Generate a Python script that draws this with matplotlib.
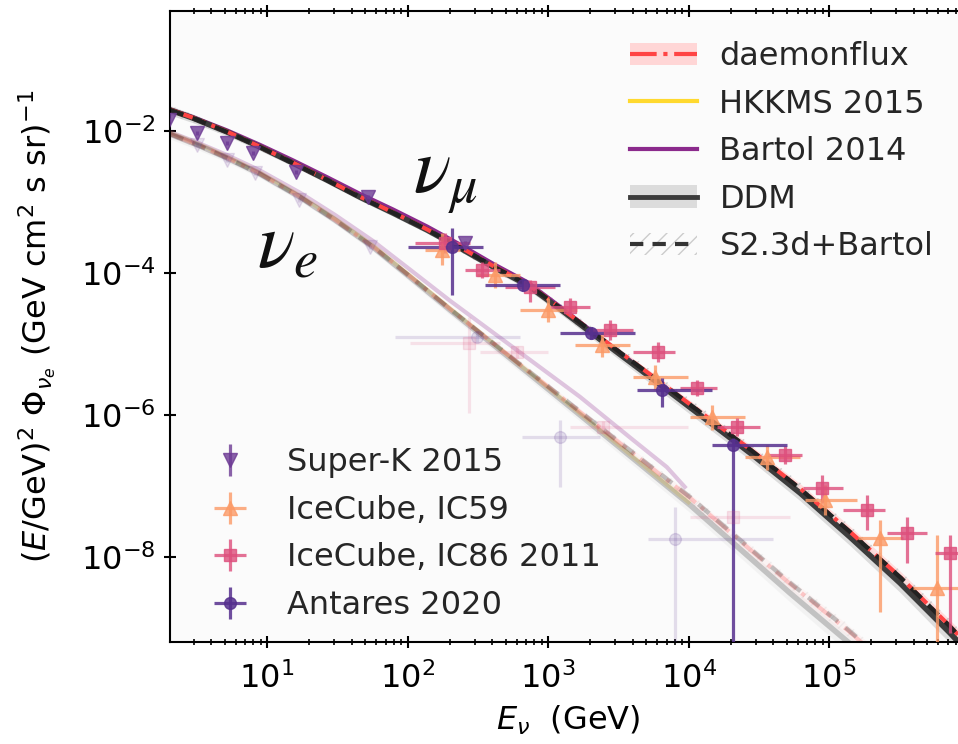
import matplotlib
matplotlib.use("Agg")
import matplotlib.pyplot as plt
import numpy as np
from matplotlib.lines import Line2D
from matplotlib.patches import Patch
from matplotlib.ticker import LogLocator, NullLocator

# ---- model curves, nu_mu (E^2 flux vs E in GeV) ----
E_mu = [2.04, 2.97, 5.19, 8.92, 15.3, 26.7, 45.9, 78.9, 138, 236, 406, 710, 1217, 2344,
        5320, 12070, 27400, 62200, 141000, 320000, 726000, 950000]
ddm_mu = [1.98e-2, 1.52e-2, 9.7e-3, 5.95e-3, 3.54e-3, 2.04e-3, 1.17e-3, 7.0e-4, 4.03e-4, 2.25e-4,
          1.22e-4, 6.78e-5, 3.11e-5, 1.16e-5, 3.43e-6, 1.0e-6, 2.92e-7, 7.97e-8, 1.91e-8, 4.3e-9,
          8.5e-10, 4.8e-10]
daemon_mu = [2.0e-2, 1.54e-2, 9.8e-3, 6.0e-3, 3.58e-3, 2.06e-3, 1.19e-3, 7.14e-4, 4.11e-4, 2.32e-4,
             1.26e-4, 7.05e-5, 3.27e-5, 1.24e-5, 3.74e-6, 1.11e-6, 3.3e-7, 9.25e-8, 2.27e-8, 5.25e-9,
             1.06e-9, 6.05e-10]
s23d_mu = [1.98e-2, 1.52e-2, 9.7e-3, 5.95e-3, 3.54e-3, 2.04e-3, 1.17e-3, 7.07e-4, 4.07e-4, 2.3e-4,
           1.24e-4, 6.98e-5, 3.23e-5, 1.23e-5, 3.7e-6, 1.1e-6, 3.27e-7, 9.17e-8, 2.25e-8, 5.2e-9,
           1.05e-9, 5.95e-10]
ddm_mu_err = [0.15, 0.14, 0.12, 0.11, 0.10, 0.10, 0.10, 0.10, 0.10, 0.10, 0.11, 0.12, 0.14, 0.16,
              0.18, 0.20, 0.20, 0.22, 0.24, 0.26, 0.28, 0.28]
daemon_mu_err = [0.08, 0.08, 0.07, 0.07, 0.06, 0.06, 0.06, 0.06, 0.07, 0.07, 0.08, 0.08, 0.09, 0.10,
                 0.12, 0.14, 0.15, 0.17, 0.19, 0.21, 0.22, 0.22]
s23d_mu_err = [0.15, 0.14, 0.12, 0.11, 0.10, 0.10, 0.10, 0.11, 0.12, 0.13, 0.14, 0.15, 0.16, 0.17,
               0.18, 0.20, 0.20, 0.22, 0.23, 0.24, 0.25, 0.25]
E_mu_tab = [2.04, 2.97, 5.19, 8.92, 15.3, 26.7, 45.9, 78.9, 138, 236, 406, 710, 1217, 2344, 5320, 10000]
hkkms_mu = [1.99e-2, 1.53e-2, 9.8e-3, 6.0e-3, 3.57e-3, 2.06e-3, 1.18e-3, 7.07e-4, 4.07e-4, 2.27e-4,
            1.23e-4, 6.85e-5, 3.14e-5, 1.17e-5, 3.47e-6, 1.35e-6]
bartol_mu = [2.02e-2, 1.57e-2, 1.02e-2, 6.37e-3, 3.86e-3, 2.24e-3, 1.3e-3, 7.84e-4, 4.51e-4, 2.52e-4,
             1.35e-4, 7.46e-5, 3.36e-5, 1.23e-5, 3.57e-6, 1.37e-6]

# ---- model curves, nu_e ----
E_e = [2.04, 3.34, 5.19, 8.92, 17.2, 30.5, 56.8, 104, 201, 455, 1690, 10250, 52700, 136500, 230700]
ddm_e = [9.08e-3, 6.15e-3, 4.17e-3, 2.48e-3, 1.17e-3, 5.57e-4, 2.32e-4, 8.78e-5, 3.01e-5, 8.22e-6,
         1.0e-6, 5.4e-8, 3.11e-9, 6.35e-10, 2.56e-10]
s23d_e = [9.08e-3, 6.15e-3, 4.17e-3, 2.48e-3, 1.17e-3, 5.57e-4, 2.34e-4, 8.96e-5, 3.1e-5, 8.63e-6,
          1.12e-6, 7.0e-8, 4.35e-9, 9.5e-10, 3.84e-10]
daemon_e = [9.1e-3, 6.2e-3, 4.2e-3, 2.5e-3, 1.18e-3, 5.6e-4, 2.35e-4, 9.0e-5, 3.1e-5, 8.6e-6,
            1.1e-6, 6.8e-8, 4.2e-9, 9.2e-10, 3.7e-10]
ddm_e_err = [0.15, 0.14, 0.13, 0.12, 0.12, 0.12, 0.13, 0.14, 0.15, 0.16, 0.18, 0.22, 0.25, 0.28, 0.28]
band_e_err = [0.10, 0.09, 0.08, 0.08, 0.08, 0.08, 0.09, 0.10, 0.11, 0.12, 0.13, 0.15, 0.18, 0.20, 0.20]
E_e_bartol = [2.04, 3.34, 5.19, 8.92, 17.2, 30.5, 56.8, 104, 201, 455, 1690, 4000, 7000, 9400]
bartol_e = [9.7e-3, 6.64e-3, 4.59e-3, 2.78e-3, 1.35e-3, 6.57e-4, 2.83e-4, 1.12e-4, 4.06e-5, 1.23e-5,
            1.8e-6, 4.5e-7, 1.85e-7, 9.7e-8]
E_e_hkkms = [2.04, 3.34, 5.19, 8.92, 17.2, 30.5, 56.8, 104, 201, 455, 1690, 10000]
hkkms_e = [9.5e-3, 6.45e-3, 4.38e-3, 2.6e-3, 1.23e-3, 5.85e-4, 2.44e-4, 9.2e-5, 3.16e-5, 8.6e-6,
           1.05e-6, 5.9e-8]

# ---- measurements, nu_mu ----
sk_mu_E = [2.0, 3.2, 5.2, 7.9, 16, 52, 256]
sk_mu_F = [1.43e-2, 9.4e-3, 6.8e-3, 4.9e-3, 2.65e-3, 1.17e-3, 2.65e-4]
sk_mu_Flo = [1.35e-2, 8.9e-3, 6.4e-3, 4.6e-3, 2.5e-3, 1.1e-3, 2.45e-4]
sk_mu_Fhi = [1.52e-2, 1.0e-2, 7.2e-3, 5.2e-3, 2.8e-3, 1.25e-3, 2.85e-4]

ic59_E = [176, 420, 1000, 2420, 5780, 14700, 36200, 93600, 231000, 587000]
ic59_Elo = [133, 312, 632, 1560, 4030, 10250, 25200, 67500, 161000, 396000]
ic59_Ehi = [236, 632, 1610, 3830, 9920, 25200, 62200, 158000, 336000, 929000]
ic59_F = [2.11e-4, 9.4e-5, 3.01e-5, 9.7e-6, 3.43e-6, 9.4e-7, 2.56e-7, 6.35e-8, 1.85e-8, 3.66e-9]
ic59_Flo = [1.30e-4, 6.15e-5, 2.04e-5, 6.56e-6, 2.25e-6, 6.15e-7, 1.68e-7, 3.91e-8, 1.68e-9, 1e-12]
ic59_Fhi = [3.66e-4, 1.43e-4, 4.45e-5, 1.43e-5, 5.06e-6, 1.38e-6, 3.78e-7, 1.03e-7, 3.32e-8, 2.04e-8]

ic86_E = [185, 339, 745, 1430, 2760, 6070, 11500, 22100, 48600, 89200, 186000, 359000, 727000]
ic86_Elo = [113, 257, 494, 1030, 1990, 4030, 8700, 15950, 36800, 65300, 125800, 258700, 568000]
ic86_Ehi = [279, 455, 1120, 1990, 4030, 8010, 15950, 32300, 64200, 125800, 250400, 498000, 1.0e6]
ic86_F = [2.65e-4, 1.10e-4, 6.35e-5, 3.32e-5, 1.57e-5, 7.7e-6, 2.40e-6, 6.78e-7, 2.74e-7, 9.38e-8,
          4.59e-8, 2.18e-8, 1.14e-8]
ic86_Flo = [1.91e-4, 8.5e-5, 3.91e-5, 2.48e-5, 1.14e-5, 5.57e-6, 1.85e-6, 5.06e-7, 2.04e-7, 5.77e-8,
            2.40e-8, 8.2e-9, 8.5e-10]
ic86_Fhi = [3.66e-4, 1.43e-4, 7.96e-5, 4.45e-5, 2.18e-5, 1.07e-5, 3.11e-6, 9.08e-7, 3.66e-7, 1.43e-7,
            7.47e-8, 3.66e-8, 2.04e-8]

ant_E = [207, 664, 2020, 6480, 20700]
ant_Elo = [101, 356, 1217, 4300, 14700]
ant_Ehi = [345, 1217, 4160, 14700, 50200]
ant_F = [2.32e-4, 6.78e-5, 1.43e-5, 2.25e-6, 3.78e-7]
ant_Flo = [4.9e-5, 5.57e-5, 1.18e-5, 1.30e-6, 1e-12]
ant_Fhi = [4.31e-4, 8.22e-5, 1.73e-5, 3.32e-6, 4.74e-7]

# ---- measurements, nu_e (shown faded) ----
sk_e_E = [3.2, 5.2, 8.2, 17, 54]
sk_e_F = [6.35e-3, 3.9e-3, 2.56e-3, 1.07e-3, 2.3e-4]
sk_e_Flo = [6.0e-3, 3.7e-3, 2.4e-3, 1.0e-3, 2.15e-4]
sk_e_Fhi = [6.7e-3, 4.1e-3, 2.7e-3, 1.14e-3, 2.45e-4]

ic86_e_E = [274, 602, 2460, 20700]
ic86_e_Elo = [104, 328, 1434, 10250]
ic86_e_Ehi = [455, 1000, 9920, 52800]
ic86_e_F = [1.03e-5, 7.7e-6, 6.78e-7, 3.66e-8]
ic86_e_Flo = [1.07e-6, 6.3e-6, 5.5e-7, 2.8e-8]
ic86_e_Fhi = [2.4e-5, 9.4e-6, 8.3e-7, 4.7e-8]

ant_e_E = [312, 1220, 8010]
ant_e_Elo = [81.5, 653, 5150]
ant_e_Ehi = [632, 2340, 39950]
ant_e_F = [1.26e-5, 4.9e-7, 1.79e-8]
ant_e_Flo = [1.05e-5, 9.7e-8, 1e-12]
ant_e_Fhi = [1.5e-5, 8.5e-7, 5.06e-8]

c_daemon = '#ff4444'
c_daemon_band = '#ffd6d6'
c_hkkms = '#ffd92f'
c_bartol = '#8b2a8c'
c_ddm = '#3c3c3c'
c_ddm_band = '#dcdcdc'
c_sk = '#6d3a94'
c_ic59 = '#fb9a66'
c_ic86 = '#dd4f7c'
c_ant = '#56308e'


def draw_models(ax, E, ddm, ddm_err, daemon, daemon_err, s23d, s23d_err,
                Eh, hk, Eb, bt, alpha):
    E = np.array(E)
    ddm, daemon, s23d = np.array(ddm), np.array(daemon), np.array(s23d)
    ax.fill_between(E, ddm * (1 - np.array(ddm_err)), ddm * (1 + np.array(ddm_err)),
                    color=c_ddm_band, lw=0, alpha=alpha, zorder=1)
    ax.fill_between(E, daemon * (1 - np.array(daemon_err)), daemon * (1 + np.array(daemon_err)),
                    color=c_daemon_band, lw=0, alpha=alpha * 0.8, zorder=1.1)
    ax.fill_between(E, s23d * (1 - np.array(s23d_err)), s23d * (1 + np.array(s23d_err)),
                    facecolor='none', edgecolor='#cccccc', hatch='//', lw=0,
                    alpha=alpha, zorder=1.2)
    ax.plot(Eh, hk, color=c_hkkms, lw=3, alpha=alpha, zorder=2)
    ax.plot(Eb, bt, color=c_bartol, lw=3, alpha=alpha, zorder=2.1)
    ax.plot(E, ddm, color=c_ddm, lw=4, alpha=alpha, zorder=2.2, solid_capstyle='butt')
    ax.plot(E, daemon, color=c_daemon, lw=3, ls='-.', alpha=alpha, zorder=2.3)
    ax.plot(E, s23d, color='#222222', lw=3.2, ls=(0, (3.2, 2.2)), alpha=alpha, zorder=2.4)


def xyerr(E, Elo, Ehi, F, Flo, Fhi):
    E, F = np.array(E), np.array(F)
    xe = [E - np.array(Elo), np.array(Ehi) - E]
    ye = [F - np.array(Flo), np.array(Fhi) - F]
    return xe, ye


fig = plt.figure(figsize=(9.58, 7.44), dpi=100)
ax = fig.add_axes([170 / 958, 102 / 744, 796.4 / 958, 631 / 744])
ax.set_facecolor('#fbfbfb')
ax.set_xscale('log')
ax.set_yscale('log')

# nu_e (faded) and nu_mu model curves
draw_models(ax, E_e, ddm_e, ddm_e_err, daemon_e, band_e_err, s23d_e, band_e_err,
            E_e_hkkms, hkkms_e, E_e_bartol, bartol_e, alpha=0.26)
draw_models(ax, E_mu, ddm_mu, ddm_mu_err, daemon_mu, daemon_mu_err, s23d_mu, s23d_mu_err,
            E_mu_tab, hkkms_mu, E_mu_tab, bartol_mu, alpha=1.0)

ekw = dict(ls='none', elinewidth=2.3, capsize=0, zorder=3)

# nu_e data, faded
ax.errorbar(sk_e_E, sk_e_F, yerr=[np.array(sk_e_F) - np.array(sk_e_Flo), np.array(sk_e_Fhi) - np.array(sk_e_F)],
            marker='v', ms=10, color=c_sk, alpha=0.15, **ekw)
xe, ye = xyerr(ic86_e_E, ic86_e_Elo, ic86_e_Ehi, ic86_e_F, ic86_e_Flo, ic86_e_Fhi)
ax.errorbar(ic86_e_E, ic86_e_F, xerr=xe, yerr=ye, marker='s', ms=8.5, color=c_ic86, alpha=0.15, **ekw)
xe, ye = xyerr(ant_e_E, ant_e_Elo, ant_e_Ehi, ant_e_F, ant_e_Flo, ant_e_Fhi)
ax.errorbar(ant_e_E, ant_e_F, xerr=xe, yerr=ye, marker='o', ms=8.5, color=c_ant, alpha=0.15, **ekw)

# nu_mu data
h_sk = ax.errorbar(sk_mu_E, sk_mu_F,
                   yerr=[np.array(sk_mu_F) - np.array(sk_mu_Flo), np.array(sk_mu_Fhi) - np.array(sk_mu_F)],
                   marker='v', ms=10, color=c_sk, alpha=0.8, **ekw)
xe, ye = xyerr(ic59_E, ic59_Elo, ic59_Ehi, ic59_F, ic59_Flo, ic59_Fhi)
h_ic59 = ax.errorbar(ic59_E, ic59_F, xerr=xe, yerr=ye, marker='^', ms=10, color=c_ic59, alpha=0.8, **ekw)
xe, ye = xyerr(ic86_E, ic86_Elo, ic86_Ehi, ic86_F, ic86_Flo, ic86_Fhi)
h_ic86 = ax.errorbar(ic86_E, ic86_F, xerr=xe, yerr=ye, marker='s', ms=8.5, color=c_ic86, alpha=0.8, **ekw)
xe, ye = xyerr(ant_E, ant_Elo, ant_Ehi, ant_F, ant_Flo, ant_Fhi)
h_ant = ax.errorbar(ant_E, ant_F, xerr=xe, yerr=ye, marker='o', ms=8.5, color=c_ant, alpha=0.85, **ekw)

ax.set_xlim(2.04, 9.5e5)
ax.set_ylim(6.35e-10, 0.49)
ax.set_yticks([1e-2, 1e-4, 1e-6, 1e-8])
ax.yaxis.set_minor_locator(NullLocator())
ax.xaxis.set_minor_locator(LogLocator(base=10, subs=np.arange(2, 10), numticks=20))

for s in ax.spines.values():
    s.set_linewidth(1.5)
ax.tick_params(which='major', direction='inout', length=9, width=1.5, labelsize=23,
               top=True, right=False, colors='black')
ax.tick_params(axis='x', which='major', pad=10)
ax.tick_params(axis='y', which='major', pad=6)
ax.tick_params(which='minor', direction='inout', length=5, width=1.2, top=True, right=False)

ax.set_xlabel(r'$E_\nu$  (GeV)', fontsize=23, labelpad=6)
ax.set_ylabel(r'$(E/\mathrm{GeV})^2$ $\Phi_{\nu_e}$ (GeV cm$^2$ s sr)$^{-1}$', fontsize=23, labelpad=16)

ax.text(109, 1.34e-3, r'$\nu_\mu$', fontsize=56, math_fontfamily='stix', color='#111111',
        va='baseline', ha='left', zorder=5)
ax.text(8.5, 1.22e-4, r'$\nu_e$', fontsize=56, math_fontfamily='stix', color='#111111',
        va='baseline', ha='left', zorder=5)

# model legend
hmods = [
    (Patch(facecolor=c_daemon_band, edgecolor='none'), Line2D([], [], color=c_daemon, lw=3, ls='-.')),
    Line2D([], [], color=c_hkkms, lw=3),
    Line2D([], [], color=c_bartol, lw=3),
    (Patch(facecolor=c_ddm_band, edgecolor='none'), Line2D([], [], color=c_ddm, lw=3.5)),
    (Patch(facecolor='none', edgecolor='#cccccc', hatch='//', lw=0),
     Line2D([], [], color='#333333', lw=3, ls=(0, (3.2, 2.2)))),
]
leg1 = ax.legend(hmods, ['daemonflux', 'HKKMS 2015', 'Bartol 2014', 'DDM', 'S2.3d+Bartol'],
                 loc='upper left', bbox_to_anchor=(630 / 958, 1 - 41 / 744),
                 bbox_transform=fig.transFigure, frameon=False, fontsize=23,
                 handlelength=2.1, handletextpad=0.7, labelspacing=0.52,
                 borderpad=0, borderaxespad=0, labelcolor='#262626')
ax.add_artist(leg1)

leg2 = ax.legend([h_sk, h_ic59, h_ic86, h_ant],
                 ['Super-K 2015', 'IceCube, IC59', 'IceCube, IC86 2011', 'Antares 2020'],
                 loc='lower left', bbox_to_anchor=(198 / 958, 1 - 621 / 744),
                 bbox_transform=fig.transFigure, frameon=False, fontsize=23,
                 handlelength=2.0, handletextpad=0.8, labelspacing=0.52,
                 borderpad=0, borderaxespad=0, labelcolor='#262626')

fig.savefig('out.png', dpi=100)
